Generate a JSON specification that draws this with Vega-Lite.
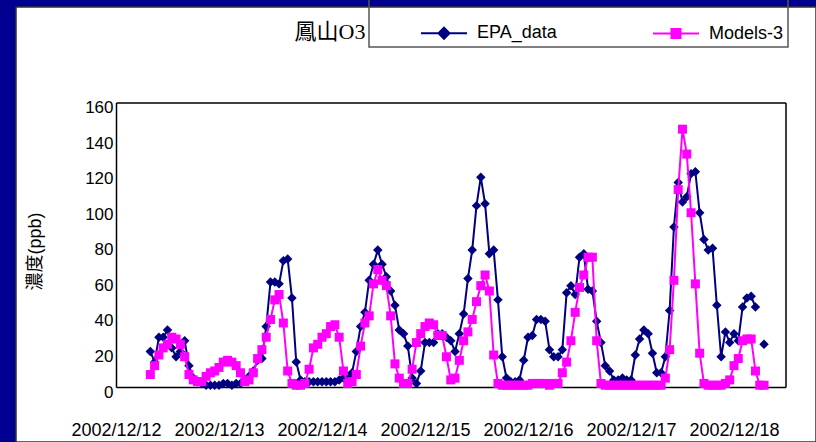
{
  "$schema": "https://vega.github.io/schema/vega-lite/v6.json",
  "width": 800,
  "height": 435,
  "autosize": {"type": "none"},
  "padding": {"left": 16, "top": 7, "right": 0, "bottom": 0},
  "background": "#000090",
  "config": {
    "view": {"fill": "white", "stroke": "#333333", "strokeWidth": 1.5},
    "font": "Liberation Sans"
  },
  "data": {"values": [
    {"t":"2002-12-12T08:00","e":20,"m":7},{"t":"2002-12-12T09:00","e":14,"m":12},{"t":"2002-12-12T10:00","e":28,"m":18},{"t":"2002-12-12T11:00","e":28,"m":22},
    {"t":"2002-12-12T12:00","e":32,"m":24},{"t":"2002-12-12T13:00","e":22,"m":28},{"t":"2002-12-12T14:00","e":17,"m":27},{"t":"2002-12-12T15:00","e":20,"m":24},
    {"t":"2002-12-12T16:00","e":26,"m":17},{"t":"2002-12-12T17:00","e":12,"m":7},{"t":"2002-12-12T18:00","e":5,"m":4},{"t":"2002-12-12T19:00","e":3,"m":3},
    {"t":"2002-12-12T20:00","e":2,"m":3},{"t":"2002-12-12T21:00","e":1,"m":6},{"t":"2002-12-12T22:00","e":1,"m":8},{"t":"2002-12-12T23:00","e":1,"m":9},
    {"t":"2002-12-13T00:00","e":1,"m":11},{"t":"2002-12-13T01:00","e":2,"m":14},{"t":"2002-12-13T02:00","e":2,"m":15},{"t":"2002-12-13T03:00","e":1,"m":14},
    {"t":"2002-12-13T04:00","e":2,"m":12},{"t":"2002-12-13T05:00","e":2,"m":8},{"t":"2002-12-13T06:00","e":4,"m":3},{"t":"2002-12-13T07:00","e":6,"m":4},
    {"t":"2002-12-13T08:00","e":9,"m":8},{"t":"2002-12-13T09:00","e":15,"m":16},{"t":"2002-12-13T10:00","e":16,"m":21},{"t":"2002-12-13T11:00","e":34,"m":28},
    {"t":"2002-12-13T12:00","e":59,"m":38},{"t":"2002-12-13T13:00","e":59,"m":49},{"t":"2002-12-13T14:00","e":58,"m":52},{"t":"2002-12-13T15:00","e":71,"m":36},
    {"t":"2002-12-13T16:00","e":72,"m":9},{"t":"2002-12-13T17:00","e":50,"m":2},{"t":"2002-12-13T18:00","e":14,"m":1},{"t":"2002-12-13T19:00","e":4,"m":1},
    {"t":"2002-12-13T20:00","e":3,"m":2},{"t":"2002-12-13T21:00","e":3,"m":10},{"t":"2002-12-13T22:00","e":3,"m":22},{"t":"2002-12-13T23:00","e":3,"m":24},
    {"t":"2002-12-14T00:00","e":3,"m":28},{"t":"2002-12-14T01:00","e":3,"m":30},{"t":"2002-12-14T02:00","e":3,"m":34},{"t":"2002-12-14T03:00","e":3,"m":35},
    {"t":"2002-12-14T04:00","e":4,"m":28},{"t":"2002-12-14T05:00","e":5,"m":9},{"t":"2002-12-14T06:00","e":6,"m":2},{"t":"2002-12-14T07:00","e":8,"m":3},
    {"t":"2002-12-14T08:00","e":20,"m":7},{"t":"2002-12-14T09:00","e":34,"m":23},{"t":"2002-12-14T10:00","e":42,"m":36},{"t":"2002-12-14T11:00","e":60,"m":40},
    {"t":"2002-12-14T12:00","e":69,"m":58},{"t":"2002-12-14T13:00","e":77,"m":66},{"t":"2002-12-14T14:00","e":69,"m":60},{"t":"2002-12-14T15:00","e":62,"m":57},
    {"t":"2002-12-14T16:00","e":54,"m":40},{"t":"2002-12-14T17:00","e":46,"m":13},{"t":"2002-12-14T18:00","e":32,"m":5},{"t":"2002-12-14T19:00","e":30,"m":2},
    {"t":"2002-12-14T20:00","e":23,"m":2},{"t":"2002-12-14T21:00","e":5,"m":10},{"t":"2002-12-14T22:00","e":2,"m":25},{"t":"2002-12-14T23:00","e":9,"m":30},
    {"t":"2002-12-15T00:00","e":25,"m":34},{"t":"2002-12-15T01:00","e":25,"m":36},{"t":"2002-12-15T02:00","e":25,"m":35},{"t":"2002-12-15T03:00","e":30,"m":29},
    {"t":"2002-12-15T04:00","e":30,"m":29},{"t":"2002-12-15T05:00","e":28,"m":17},{"t":"2002-12-15T06:00","e":26,"m":4},{"t":"2002-12-15T07:00","e":20,"m":5},
    {"t":"2002-12-15T08:00","e":30,"m":15},{"t":"2002-12-15T09:00","e":41,"m":26},{"t":"2002-12-15T10:00","e":61,"m":31},{"t":"2002-12-15T11:00","e":77,"m":38},
    {"t":"2002-12-15T12:00","e":102,"m":48},{"t":"2002-12-15T13:00","e":118,"m":57},{"t":"2002-12-15T14:00","e":103,"m":63},{"t":"2002-12-15T15:00","e":75,"m":54},
    {"t":"2002-12-15T16:00","e":77,"m":18},{"t":"2002-12-15T17:00","e":49,"m":2},{"t":"2002-12-15T18:00","e":17,"m":1},{"t":"2002-12-15T19:00","e":5,"m":1},
    {"t":"2002-12-15T20:00","e":3,"m":1},{"t":"2002-12-15T21:00","e":3,"m":1},{"t":"2002-12-15T22:00","e":4,"m":1},{"t":"2002-12-15T23:00","e":15,"m":1},
    {"t":"2002-12-16T00:00","e":28,"m":1},{"t":"2002-12-16T01:00","e":29,"m":2},{"t":"2002-12-16T02:00","e":38,"m":2},{"t":"2002-12-16T03:00","e":38,"m":2},
    {"t":"2002-12-16T04:00","e":37,"m":2},{"t":"2002-12-16T05:00","e":21,"m":1},{"t":"2002-12-16T06:00","e":17,"m":2},{"t":"2002-12-16T07:00","e":17,"m":2},
    {"t":"2002-12-16T08:00","e":21,"m":8},{"t":"2002-12-16T09:00","e":53,"m":14},{"t":"2002-12-16T10:00","e":57,"m":26},{"t":"2002-12-16T11:00","e":52,"m":42},
    {"t":"2002-12-16T12:00","e":73,"m":56},{"t":"2002-12-16T13:00","e":75,"m":63},{"t":"2002-12-16T14:00","e":55,"m":73},{"t":"2002-12-16T15:00","e":54,"m":73},
    {"t":"2002-12-16T16:00","e":37,"m":26},{"t":"2002-12-16T17:00","e":25,"m":2},{"t":"2002-12-16T18:00","e":12,"m":1},{"t":"2002-12-16T19:00","e":9,"m":1},
    {"t":"2002-12-16T20:00","e":4,"m":1},{"t":"2002-12-16T21:00","e":4,"m":1},{"t":"2002-12-16T22:00","e":5,"m":1},{"t":"2002-12-16T23:00","e":4,"m":1},
    {"t":"2002-12-17T00:00","e":4,"m":1},{"t":"2002-12-17T01:00","e":18,"m":1},{"t":"2002-12-17T02:00","e":27,"m":1},{"t":"2002-12-17T03:00","e":32,"m":1},
    {"t":"2002-12-17T04:00","e":30,"m":1},{"t":"2002-12-17T05:00","e":19,"m":1},{"t":"2002-12-17T06:00","e":8,"m":1},{"t":"2002-12-17T07:00","e":8,"m":1},
    {"t":"2002-12-17T08:00","e":17,"m":5},{"t":"2002-12-17T09:00","e":43,"m":21},{"t":"2002-12-17T10:00","e":90,"m":60},{"t":"2002-12-17T11:00","e":115,"m":111},
    {"t":"2002-12-17T12:00","e":104,"m":145},{"t":"2002-12-17T13:00","e":107,"m":131},{"t":"2002-12-17T14:00","e":120,"m":98},{"t":"2002-12-17T15:00","e":121,"m":58},
    {"t":"2002-12-17T16:00","e":98,"m":19},{"t":"2002-12-17T17:00","e":83,"m":2},{"t":"2002-12-17T18:00","e":77,"m":1},{"t":"2002-12-17T19:00","e":78,"m":1},
    {"t":"2002-12-17T20:00","e":46,"m":1},{"t":"2002-12-17T21:00","e":17,"m":1},{"t":"2002-12-17T22:00","e":31,"m":2},{"t":"2002-12-17T23:00","e":25,"m":4},
    {"t":"2002-12-18T00:00","e":30,"m":12},{"t":"2002-12-18T01:00","e":26,"m":16},{"t":"2002-12-18T02:00","e":45,"m":26},{"t":"2002-12-18T03:00","e":50,"m":27},
    {"t":"2002-12-18T04:00","e":51,"m":27},{"t":"2002-12-18T05:00","e":45,"m":9},{"t":"2002-12-18T06:00","e":null,"m":1},{"t":"2002-12-18T07:00","e":24,"m":1}
  ]},
  "layer": [
    {
      "mark": {"type": "line", "strokeWidth": 2, "invalid": "break-paths-filter-domains"},
      "encoding": {
        "x": {"field": "t", "type": "temporal",
          "scale": {"domain": [{"year": 2002, "month": 12, "date": 12, "hours": 0}, {"year": 2002, "month": 12, "date": 18, "hours": 12}], "range": [100, 769.5]},
          "axis": {"orient": "bottom", "offset": -55, "format": "%Y/%m/%d", "tickCount": {"interval": "day", "step": 1}, "labelFontSize": 18, "labelPadding": 34, "labelColor": "#000000", "labelFont": "Liberation Sans", "ticks": false, "tickSize": 0, "domainColor": "#000000", "domainWidth": 1.5, "grid": false, "title": null, "labelOverlap": false, "labelFlush": false}},
        "y": {"field": "e", "type": "quantitative",
          "scale": {"domain": [0, 160], "range": [380, 95.5], "nice": false, "zero": true},
          "axis": {"orient": "left", "offset": -100, "values": [0, 20, 40, 60, 80, 100, 120, 140, 160], "labelFontSize": 17, "labelPadding": 3, "labelOffset": 5, "labelColor": "#000000", "labelFont": "Liberation Sans", "ticks": false, "tickSize": 0, "domainColor": "#000000", "domainWidth": 1.5, "grid": false, "title": "濃度(ppb)", "titleFont": "Liberation Sans, Noto Sans CJK TC", "titleFontSize": 18, "titleFontWeight": "normal", "titleColor": "#000000", "titlePadding": 40, "titleY": 244}},
        "color": {"datum": "EPA_data", "type": "nominal",
          "scale": {"domain": ["EPA_data", "Models-3"], "range": ["#000080", "#FF00FF"]},
          "legend": {"orient": "none", "legendX": 353, "legendY": -12, "direction": "horizontal",
            "title": " ", "titleFontSize": 10, "titlePadding": 13, "padding": 4,
            "strokeColor": "#555555", "labelFont": "Liberation Sans", "labelFontSize": 18, "labelColor": "#000000",
            "labelExpr": "datum.label === 'Models-3' ? 'Models-3\u00a0\u00a0\u00a0\u00a0\u00a0\u00a0\u00a0\u00a0' : datum.label", "labelLimit": 400,
            "symbolSize": 400, "symbolOffset": 60, "labelOffset": 22, "columnPadding": 48, "symbolStrokeWidth": 2,
            "encode": {
              "symbols": {"update": {
                "shape": {"signal": "datum.value === 'EPA_data' ? 'M-2.3,0H2.3M0,-0.55L0.55,0L0,0.55L-0.55,0Z' : 'M-2.3,0H2.3M-0.45,-0.45H0.45V0.45H-0.45Z'"},
                "fill": {"scale": "color", "field": "value"},
                "stroke": {"scale": "color", "field": "value"},
                "strokeWidth": {"value": 2},
                "opacity": {"value": 1}
              }},
              "legend": {"update": {"strokeWidth": {"value": 1.5}}}
            }}
        }
      }
    },
    {
      "mark": {"type": "point", "shape": "diamond", "filled": true, "size": 90, "opacity": 1},
      "encoding": {
        "x": {"field": "t", "type": "temporal", "axis": {"orient": "top", "offset": -95.5, "labels": false, "ticks": false, "domain": true, "domainColor": "#000000", "domainWidth": 1.5, "grid": false,
          "title": "鳳山O3", "titleX": 349, "titleY": -71.5, "titleAlign": "right", "titleBaseline": "middle", "titleAngle": 0, "titleAnchor": null,
          "titleFont": "Liberation Serif, Noto Sans CJK TC", "titleFontSize": 22, "titleFontWeight": "normal", "titleColor": "#000000"}},
        "y": {"field": "e", "type": "quantitative", "axis": {"orient": "right", "offset": -30.5, "labels": false, "ticks": false, "domain": true, "domainColor": "#000000", "domainWidth": 1.5, "grid": false, "title": null}},
        "color": {"datum": "EPA_data", "type": "nominal"}
      }
    },
    {
      "mark": {"type": "line", "strokeWidth": 2},
      "encoding": {
        "x": {"field": "t", "type": "temporal", "axis": null},
        "y": {"field": "m", "type": "quantitative", "axis": null},
        "color": {"datum": "Models-3", "type": "nominal"}
      }
    },
    {
      "mark": {"type": "point", "shape": "square", "filled": true, "size": 81, "opacity": 1},
      "encoding": {
        "x": {"field": "t", "type": "temporal", "axis": null},
        "y": {"field": "m", "type": "quantitative", "axis": null},
        "color": {"datum": "Models-3", "type": "nominal"}
      }
    }
  ],
  "resolve": {"axis": {"x": "independent", "y": "independent"}}
}
